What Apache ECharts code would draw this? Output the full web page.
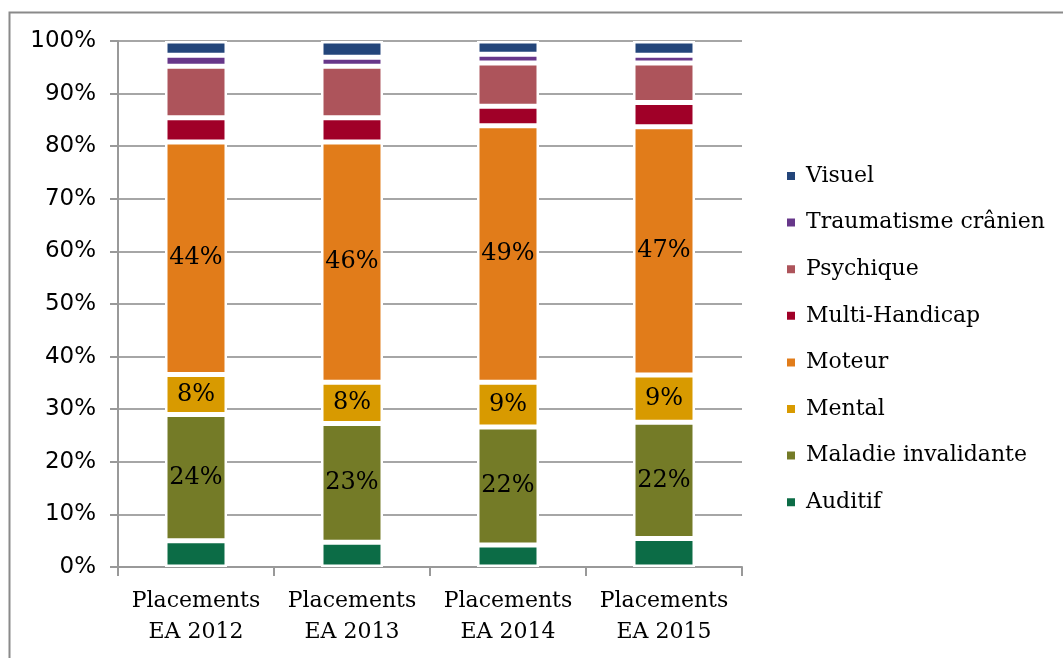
<!DOCTYPE html>
<html>
<head>
<meta charset="utf-8">
<script src="https://cdn.jsdelivr.net/npm/echarts@6/dist/echarts.min.js"></script>
<style>html,body{margin:0;padding:0;background:#fff;}#c{width:1063px;height:658px;}</style>
</head>
<body>
<div id="c"></div>
<script>
const categories = ['Placements\nEA 2012', 'Placements\nEA 2013', 'Placements\nEA 2014', 'Placements\nEA 2015'];
const seriesNames = ['Auditif', 'Maladie invalidante', 'Mental', 'Moteur', 'Multi-Handicap', 'Psychique', 'Traumatisme crânien', 'Visuel'];
const auditif = [5.0, 4.7, 4.2, 5.4];
const maladie = [24.0, 22.6, 22.4, 22.1];
const mental = [7.6, 7.8, 8.5, 9.0];
const moteur = [44.2, 45.7, 48.8, 47.2];
const multi = [4.6, 4.6, 3.7, 4.6];
const psychique = [9.8, 9.8, 8.2, 7.5];
const trauma = [2.1, 1.7, 1.7, 1.5];
const visuel = [2.7, 3.1, 2.5, 2.7];
const yTicks = [0, 10, 20, 30, 40, 50, 60, 70, 80, 90, 100];
const labelled = ['Maladie invalidante', 'Mental', 'Moteur'];

const values = [auditif, maladie, mental, moteur, multi, psychique, trauma, visuel];
const colors = ['#0c6c46', '#747b27', '#d89a00', '#e17c1a', '#a00028', '#ad545b', '#67378a', '#23457a'];

const chart = echarts.init(document.getElementById('c'));
const serif = 'DejaVu Serif';
chart.setOption({
  animation: false,
  backgroundColor: '#fff',
  graphic: [{
    type: 'rect', silent: true,
    shape: { x: 9.5, y: 12.5, width: 1100, height: 700 },
    style: { fill: 'none', stroke: '#8a8a8a', lineWidth: 2 }
  }],
  grid: { left: 118, right: 321, top: 41, bottom: 91 },
  legend: {
    orient: 'vertical',
    left: 780, top: 160,
    itemWidth: 10, itemHeight: 10, itemGap: 24.6,
    icon: 'rect',
    data: seriesNames.slice().reverse(),
    textStyle: { fontFamily: serif, fontSize: 22, color: '#000', lineHeight: 22, padding: [0, 0, 0, 5] }
  },
  xAxis: {
    type: 'category', data: categories,
    axisLine: { lineStyle: { color: '#999', width: 2 } },
    axisTick: { show: true, length: 9, interval: 0, lineStyle: { color: '#999', width: 2 } },
    axisLabel: { interval: 0, fontFamily: serif, fontSize: 22, color: '#000', lineHeight: 31, margin: 19 }
  },
  yAxis: {
    type: 'value', min: yTicks[0], max: yTicks[yTicks.length - 1], interval: 10,
    axisLine: { show: true, lineStyle: { color: '#999', width: 2 } },
    axisTick: { show: true, length: 8, lineStyle: { color: '#999', width: 2 } },
    splitLine: { lineStyle: { color: '#a6a6a6', width: 2 } },
    axisLabel: { fontFamily: 'DejaVu Sans', fontSize: 23, color: '#000', margin: 22, formatter: v => v + '%' }
  },
  series: seriesNames.map((n, i) => ({
    name: n, type: 'bar', stack: 'total', barWidth: 62,
    data: values[i],
    itemStyle: { color: colors[i], borderColor: '#fff', borderWidth: 2.5 },
    label: {
      show: labelled.includes(n), position: 'inside',
      fontFamily: serif, fontSize: 24, color: '#000',
      formatter: p => Math.round(p.value) + '%'
    }
  }))
});
</script>
</body>
</html>
